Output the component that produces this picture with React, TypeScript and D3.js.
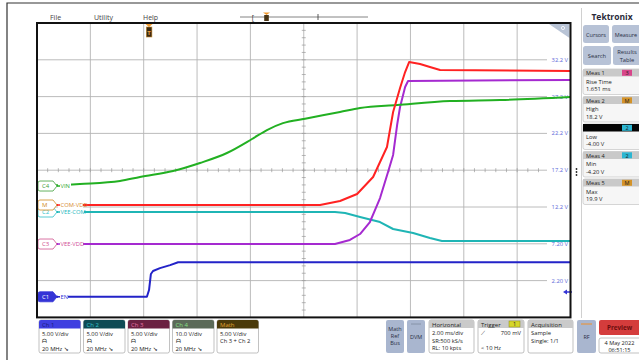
import React from "react";
import * as d3 from "d3";

// ---- data (display volts, 5 V/div, time in ms, 2 ms/div) ----
const ch1T = [0, 4.12, 4.2, 4.27, 4.35, 4.61, 4.99, 5.29, 20];
const ch1V = [0.0, 0.0, 0.92, 3.1, 3.5, 3.9, 4.3, 4.7, 4.7];

const ch2T = [0.1, 11.17, 11.55, 12.11, 12.86, 13.35, 14.1, 14.73, 15.18, 20];
const ch2V = [11.52, 11.52, 11.38, 10.84, 10.16, 9.21, 8.67, 7.99, 7.58, 7.58];

const ch3T = [0.1, 11.17, 11.73, 12.11, 12.48, 12.67, 12.86, 13.16, 13.35, 13.5, 13.61, 13.8, 13.91, 20];
const ch3V = [7.17, 7.17, 7.72, 8.53, 10.16, 11.79, 13.42, 16.96, 19.27, 23.34, 25.79, 28.5, 29.32, 29.46];

const ch4T = [0.1, 1.61, 3.11, 3.86, 5.1, 6.11, 7.12, 8.06, 8.62, 9.22, 10.05, 11.36, 12.11, 13.5, 15.49, 17.36, 20];
const ch4V = [15.05, 15.32, 15.73, 16.28, 17.09, 18.18, 19.54, 21.44, 22.66, 23.6, 24.2, 25.11, 25.65, 26.06, 26.6, 26.74, 27.15];

const mathT = [0.1, 10.61, 11.36, 12.0, 12.6, 12.86, 13.12, 13.35, 13.61, 13.8, 13.95, 14.36, 14.73, 15.11, 20];
const mathV = [12.47, 12.47, 13.02, 13.97, 16.28, 18.31, 20.35, 25.11, 28.37, 30.54, 31.9, 31.63, 31.22, 30.81, 30.68];

const xTicks = [2, 4, 6, 8, 10, 12, 14, 16, 18];
const yTickValues = [32.2, 27.2, 22.2, 17.2, 12.2, 7.2, 2.2];
const yTickLabels = ["32.2 V", "27.2 V", "22.2 V", "17.2 V", "12.2 V", "7.20 V", "2.20 V"];

const channelNames = ["Ch 1", "Ch 2", "Ch 3", "Ch 4", "Math"];
const channelScale = ["5.00 V/div", "5.00 V/div", "5.00 V/div", "10.0 V/div", "5.00 V/div"];
const traceLabels = ["EN", "VEE-COM", "VEE-VDD", "VIN", "COM-VDD"];
const flagTexts = ["C1", "C2", "C3", "C4", "M"];
const flagLevels = [0.0, 11.52, 7.17, 15.05, 12.47];

const measNames = ["Meas 1", "Meas 2", "Meas 3", "Meas 4", "Meas 5"];
const measBadges = ["3", "M", "2", "2", "M"];
const measTypes = ["Rise Time", "High", "Low", "Min", "Max"];
const measValues = ["1.651 ms", "18.2 V", "-4.00 V", "-4.20 V", "19.9 V"];

const FONT = "'Open Sans', 'DejaVu Sans', sans-serif";

const L = 37, R = 570.5, T = 23, B = 317.4;
const x = d3.scaleLinear().domain([0, 20]).range([L, R]);
const y = d3.scaleLinear().domain([-2.8, 37.2]).range([B, T]);

const traceColors = ["#2323c8", "#1fb5b5", "#a52ad0", "#22b022", "#ff2222"];
const flagColors = ["#3434d6", "#2cbfc8", "#d0508e", "#3f9e3a", "#d08a22"];
const labelColors = ["#3434d6", "#26b8c0", "#d04a96", "#2ea82e", "#d68a2c"];
const headFill = ["#3f3fe0", "#0e4b55", "#6b2142", "#5b6a58", "#4b3a0a"];
const headText = ["#1b1b7a", "#33c3cc", "#e675a6", "#86e086", "#e2a232"];
const badgeFill = ["#d8458a", "#d49328", "#2cb6d2", "#2cb6d2", "#d49328"];
const labelWidths = [7, 23, 22, 10, 22];

function linePath(ts: number[], vs: number[], smooth: boolean) {
  const pts = ts.map((t, i) => [t, vs[i]] as [number, number]);
  return d3.line<[number, number]>()
    .x(d => x(d[0]))
    .y(d => y(d[1]))
    .curve(smooth ? d3.curveMonotoneX : d3.curveLinear)(pts) || "";
}

function flagPath(cy: number) {
  const x0 = 38, w = 15, h = 10, p = 4;
  return `M${x0 + 2},${cy - h / 2} H${x0 + w} L${x0 + w + p},${cy} L${x0 + w},${cy + h / 2} H${x0 + 2} Q${x0},${cy + h / 2} ${x0},${cy + h / 2 - 2} V${cy - h / 2 + 2} Q${x0},${cy - h / 2} ${x0 + 2},${cy - h / 2} Z`;
}

export default function App() {
  const traces = [
    [ch1T, ch1V],
    [ch2T, ch2V],
    [ch3T, ch3V],
    [ch4T, ch4V],
    [mathT, mathV],
  ];
  const xc = x(10), yc = y(17.2);
  const minorX = d3.range(0, 20.01, 0.4).filter(t => x(t) < 546);
  const minorY = d3.range(-2.8, 37.21, 1);
  const flagOrder = [0, 2, 3, 1, 4];

  return (
    <div style={{ position: "fixed", left: 0, top: 0 }}>
      <svg width={639} height={360} style={{ display: "block", fontFamily: FONT }}>
        <rect x={0} y={0} width={639} height={360} fill="#ffffff" />
        <path d="M7,360 V3 H639" fill="none" stroke="#333" strokeWidth={1.2} />

        {/* menu */}
        <text x={50} y={20} fontSize={7} fill="#444">File</text>
        <text x={94} y={20} fontSize={7} fill="#444">Utility</text>
        <text x={143} y={20} fontSize={7} fill="#444">Help</text>

        {/* timeline */}
        <line x1={240} x2={368} y1={17} y2={17} stroke="#666" strokeWidth={0.8} />
        <text x={253} y={19.5} fontSize={7} fill="#333" textAnchor="middle">[</text>
        <line x1={318} x2={318} y1={14} y2={20} stroke="#333" strokeWidth={0.8} />
        <path d="M263,12.5 H270 L266.5,15 Z" fill="#f29a2e" />
        <rect x={264.2} y={15} width={4.6} height={6} fill="#4a3514" />

        {/* Tektronix */}
        <text x={612} y={20} fontSize={8.5} fontWeight="bold" fill="#2a2a3a" textAnchor="middle">Tektronix</text>

        {/* right divider */}
        <line x1={581.5} x2={581.5} y1={8} y2={318} stroke="#d0d0d0" strokeWidth={1} />

        {/* plot area */}
        <rect x={L} y={T} width={R - L} height={B - T} fill="#ffffff" />
        {xTicks.map(t => (
          <line key={"vx" + t} x1={x(t)} x2={x(t)} y1={T} y2={B} stroke="#b4b4b4" strokeWidth={0.9} />
        ))}
        {yTickValues.map((v, i) => (
          <g key={"hy" + v}>
            <line x1={L} x2={547} y1={y(v)} y2={y(v)} stroke="#b4b4b4" strokeWidth={0.9} />
            <text x={568} y={y(v) + 2} fontSize={5.8} fill="#5a66d8" textAnchor="end">{yTickLabels[i]}</text>
          </g>
        ))}
        {minorX.map(t => (
          <line key={"mx" + t} x1={x(t)} x2={x(t)} y1={yc - 2} y2={yc + 2} stroke="#999" strokeWidth={0.7} />
        ))}
        {minorY.map(v => (
          <line key={"my" + v} x1={xc - 2} x2={xc + 2} y1={y(v)} y2={y(v)} stroke="#999" strokeWidth={0.7} />
        ))}

        {/* pin wedge */}
        <path d="M549,24 H569.5 V38 Z" fill="#b9c4d6" />
        <circle cx={563} cy={28} r={1.6} fill="none" stroke="#fff" strokeWidth={0.8} />

        {/* traces */}
        {traces.map((tr, i) => (
          <path key={"tr" + i} d={linePath(tr[0], tr[1], i === 3)} fill="none" stroke={traceColors[i]} strokeWidth={2} strokeLinejoin="round" />
        ))}

        {/* trigger level arrow */}
        <path d="M563,292 L567,289.5 V291.2 H572 V292.8 H567 V294.5 Z" fill="#3434d6" />

        {/* trigger position */}
        <path d="M145.5,24 H152.5 L149,27 Z" fill="#f29a2e" />
        <rect x={146.3} y={27} width={5.6} height={10} fill="#3b2a12" stroke="#c98b2a" strokeWidth={0.6} />
        <text x={149.1} y={35} fontSize={6} fill="#f0a040" textAnchor="middle" fontWeight="bold">T</text>

        {/* flags */}
        {flagOrder.map(i => {
          const cy = y(flagLevels[i]);
          const filled = i === 0;
          return (
            <g key={"fl" + i}>
              <rect x={58} y={cy - 3.5} width={labelWidths[i] + 3} height={7} fill="#ffffff" />
              <line x1={57} x2={60} y1={cy} y2={cy} stroke={traceColors[i]} strokeWidth={1.5} />
              <path d={flagPath(cy)} fill={filled ? flagColors[i] : "#ffffff"} stroke={flagColors[i]} strokeWidth={0.8} />
              <text x={42} y={cy + 2.2} fontSize={6} fill={filled ? "#ffffff" : flagColors[i]}>{flagTexts[i]}</text>
              <text x={60.5} y={cy + 2} fontSize={5.8} fill={labelColors[i]}>{traceLabels[i]}</text>
            </g>
          );
        })}

        {/* plot frame */}
        <rect x={L} y={T} width={R - L} height={B - T} fill="none" stroke="#111" strokeWidth={2} />

        {/* right panel buttons */}
        <rect x={583} y={25} width={26} height={18} rx={2.5} fill="#b7c2d6" />
        <text x={596} y={36.5} fontSize={5.5} fill="#2a2f45" textAnchor="middle">Cursors</text>
        <rect x={612} y={25} width={30} height={18} rx={2.5} fill="#b7c2d6" />
        <text x={626} y={36.5} fontSize={5.5} fill="#2a2f45" textAnchor="middle">Measure</text>
        <rect x={583} y={46} width={28} height={19} rx={2.5} fill="#b7c2d6" />
        <text x={597} y={58} fontSize={5.8} fill="#2a2f45" textAnchor="middle">Search</text>
        <rect x={613} y={46} width={29} height={19} rx={2.5} fill="#b7c2d6" />
        <text x={627} y={54} fontSize={5.8} fill="#2a2f45" textAnchor="middle">Results</text>
        <text x={627} y={61.5} fontSize={5.8} fill="#2a2f45" textAnchor="middle">Table</text>

        {measNames.map((n, i) => {
          const top = 69 + i * 27.5;
          const selected = i === 2;
          return (
            <g key={"ms" + i}>
              <rect x={583} y={top} width={60} height={25.5} rx={2} fill="#f6f6f6" stroke="#c4c4c4" strokeWidth={0.7} />
              <rect x={583} y={top} width={60} height={7.5} fill={selected ? "#050505" : "#c9c9c9"} />
              {!selected && <text x={586} y={top + 6} fontSize={5.6} fill="#222">{n}</text>}
              <rect x={622} y={top + 0.8} width={10} height={6} fill={badgeFill[i]} />
              <text x={627} y={top + 6} fontSize={5.5} fill="#222" textAnchor="middle">{measBadges[i]}</text>
              <text x={586} y={top + 14.5} fontSize={5.8} fill="#222">{measTypes[i]}</text>
              <text x={586} y={top + 22} fontSize={5.8} fill="#222">{measValues[i]}</text>
            </g>
          );
        })}
        <circle cx={576.5} cy={169} r={0.9} fill="#222" />
        <circle cx={576.5} cy={172} r={0.9} fill="#222" />
        <circle cx={576.5} cy={175} r={0.9} fill="#222" />

        {/* channel boxes */}
        {channelNames.map((n, i) => {
          const bx = 39 + i * 44.5;
          return (
            <g key={"cb" + i}>
              <rect x={bx} y={320} width={41.5} height={33} rx={2} fill="#ffffff" stroke="#a8a8a8" strokeWidth={0.7} />
              <path d={`M${bx + 2},320 H${bx + 39.5} Q${bx + 41.5},320 ${bx + 41.5},322 V328.5 H${bx} V322 Q${bx},320 ${bx + 2},320 Z`} fill={headFill[i]} />
              <text x={bx + 3} y={326.8} fontSize={6} fill={headText[i]}>{n}</text>
              <text x={bx + 3} y={335.5} fontSize={5.8} fill="#222">{channelScale[i]}</text>
              {i < 4 ? (
                <g>
                  <text x={bx + 3} y={343} fontSize={5.8} fill="#222">ᗩ</text>
                  <text x={bx + 3} y={350.5} fontSize={5.8} fill="#222">20 MHz ↘</text>
                </g>
              ) : (
                <text x={bx + 3} y={343} fontSize={5.8} fill="#222">Ch 3 + Ch 2</text>
              )}
            </g>
          );
        })}

        {/* Math Ref Bus / DVM */}
        <rect x={386} y={320} width={18} height={33} rx={2} fill="#a9b6cf" />
        <text x={395} y={331} fontSize={5.5} fill="#2a2f45" textAnchor="middle">Math</text>
        <text x={395} y={338} fontSize={5.5} fill="#2a2f45" textAnchor="middle">Ref</text>
        <text x={395} y={345} fontSize={5.5} fill="#2a2f45" textAnchor="middle">Bus</text>
        <rect x={407} y={320} width={18} height={33} rx={2} fill="#a9b6cf" />
        <line x1={411} x2={421} y1={324} y2={324} stroke="#7f8aa0" strokeWidth={0.8} />
        <text x={416} y={339} fontSize={5.5} fill="#2a2f45" textAnchor="middle">DVM</text>

        {/* Horizontal */}
        <rect x={429} y={320} width={45} height={33} rx={2} fill="#ffffff" stroke="#a8a8a8" strokeWidth={0.7} />
        <rect x={429} y={320} width={45} height={8} fill="#cacaca" />
        <text x={432} y={326.5} fontSize={6} fill="#222">Horizontal</text>
        <text x={432} y={335} fontSize={5.8} fill="#222">2.00 ms/div</text>
        <text x={432} y={342.5} fontSize={5.8} fill="#222">SR:500 kS/s</text>
        <text x={432} y={350} fontSize={5.8} fill="#222">RL: 10 kpts</text>

        {/* Trigger */}
        <rect x={478} y={320} width={46} height={33} rx={2} fill="#ffffff" stroke="#a8a8a8" strokeWidth={0.7} />
        <rect x={478} y={320} width={46} height={8} fill="#cacaca" />
        <text x={481} y={326.5} fontSize={6} fill="#222">Trigger</text>
        <rect x={509} y={321} width={11} height={6} fill="#d6d62a" stroke="#8a8a1a" strokeWidth={0.5} />
        <text x={514.5} y={326.3} fontSize={5.5} fill="#222" textAnchor="middle">1</text>
        <text x={481} y={335} fontSize={5.8} fill="#222">⟋</text>
        <text x={521} y={335} fontSize={5.8} fill="#222" textAnchor="end">700 mV</text>
        <text x={481} y={350} fontSize={5.8} fill="#222">&lt; 10 Hz</text>

        {/* Acquisition */}
        <rect x={528} y={320} width={45} height={33} rx={2} fill="#ffffff" stroke="#a8a8a8" strokeWidth={0.7} />
        <rect x={528} y={320} width={45} height={8} fill="#cacaca" />
        <text x={531} y={326.5} fontSize={6} fill="#222">Acquisition</text>
        <text x={531} y={335} fontSize={5.8} fill="#222">Sample</text>
        <text x={531} y={342.5} fontSize={5.8} fill="#222">Single: 1/1</text>

        {/* RF */}
        <rect x={577} y={320} width={19} height={33} rx={2} fill="#a9b6cf" />
        <line x1={581} x2={592} y1={324} y2={324} stroke="#f0902a" strokeWidth={1} />
        <text x={586.5} y={339} fontSize={5.5} fill="#2a2f45" textAnchor="middle">RF</text>

        {/* Preview / date */}
        <rect x={599} y={320} width={44} height={15} rx={2} fill="#d43c3c" />
        <text x={619.5} y={330} fontSize={6.3} fill="#6e0e0e" textAnchor="middle" fontWeight="bold">Preview</text>
        <rect x={599} y={338} width={44} height={15} rx={2} fill="#ffffff" stroke="#a8a8a8" strokeWidth={0.7} />
        <text x={619.5} y={344.5} fontSize={5.6} fill="#222" textAnchor="middle">4 May 2022</text>
        <text x={619.5} y={351.5} fontSize={5.6} fill="#222" textAnchor="middle">06:51:15</text>
      </svg>
    </div>
  );
}
